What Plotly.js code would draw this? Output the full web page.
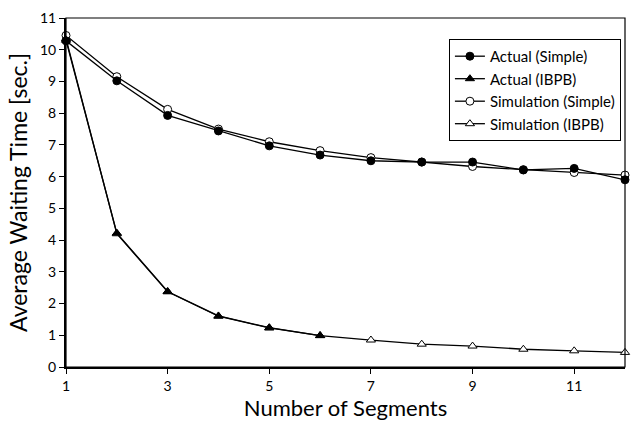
<!DOCTYPE html>
<html><head><meta charset="utf-8">
<script src="https://cdn.plot.ly/plotly-3.0.1.min.js"></script>
<style>html,body{margin:0;padding:0;background:#fff}#chart{width:632px;height:421px}</style>
</head><body><div id="chart"></div>
<script>
const segments = [1,2,3,4,5,6,7,8,9,10,11,12];
const actualSimple = [10.28,9.02,7.93,7.44,6.97,6.68,6.50,6.46,6.46,6.21,6.26,5.90];
const actualIBPB = [10.30,4.22,2.38,1.61,1.24,0.99];
const simSimple = [10.45,9.15,8.12,7.50,7.10,6.82,6.60,6.46,6.32,6.22,6.13,6.05];
const simIBPB = [10.35,4.20,2.37,1.60,1.23,0.99,0.85,0.72,0.66,0.56,0.51,0.46];
const xTicks = [1,3,5,7,9,11];
const yTicks = [0,1,2,3,4,5,6,7,8,9,10,11];

function tr(name, x, y, symbol, filled, rank){
  return {x:x, y:y, name:name, type:'scatter', mode:'lines+markers', cliponaxis:false, legendrank:rank,
    line:{color:'#000', width:1.3},
    marker:{symbol:symbol, size:8, color: filled ? '#000' : '#fff', line:{color:'#000', width:1}}};
}
const data = [
  tr('Simulation (IBPB)', segments, simIBPB, 'triangle-up', false, 4),
  tr('Simulation (Simple)', segments, simSimple, 'circle', false, 3),
  tr('Actual (IBPB)', segments.slice(0, actualIBPB.length), actualIBPB, 'triangle-up', true, 2),
  tr('Actual (Simple)', segments, actualSimple, 'circle', true, 1)
];
const font = 'Lato, "Open Sans", sans-serif';
const layout = {
  width:632, height:421, margin:{l:66, r:7, t:18, b:54},
  paper_bgcolor:'#fff', plot_bgcolor:'#fff', showlegend:true,
  font:{family:font, color:'#000', size:14},
  xaxis:{range:[1,12], tickvals:xTicks, showgrid:false, zeroline:false, showline:true, linecolor:'#000', linewidth:2,
    ticks:'outside', ticklen:5, tickcolor:'#000', tickfont:{size:14, family:font},
    title:{text:'Number of Segments', font:{size:22, family:font}, standoff:4}},
  yaxis:{range:[0,11], tickvals:yTicks, showgrid:false, zeroline:false, showline:true, linecolor:'#000', linewidth:2,
    ticks:'outside', ticklen:5, tickcolor:'#000', tickfont:{size:14, family:font},
    title:{text:'Average Waiting Time [sec.]', font:{size:23, family:font}, standoff:6}},
  shapes:[{type:'rect', xref:'paper', yref:'paper', x0:0, x1:1, y0:0, y1:1, line:{color:'#000', width:1.2}}],
  legend:{x:0.685, y:0.94, xanchor:'left', yanchor:'top', bgcolor:'#fff', bordercolor:'#000', borderwidth:1,
    font:{size:15, family:font}, itemwidth:30, traceorder:'normal'}
};
Plotly.newPlot('chart', data, layout, {displayModeBar:false, staticPlot:true});
</script></body></html>
